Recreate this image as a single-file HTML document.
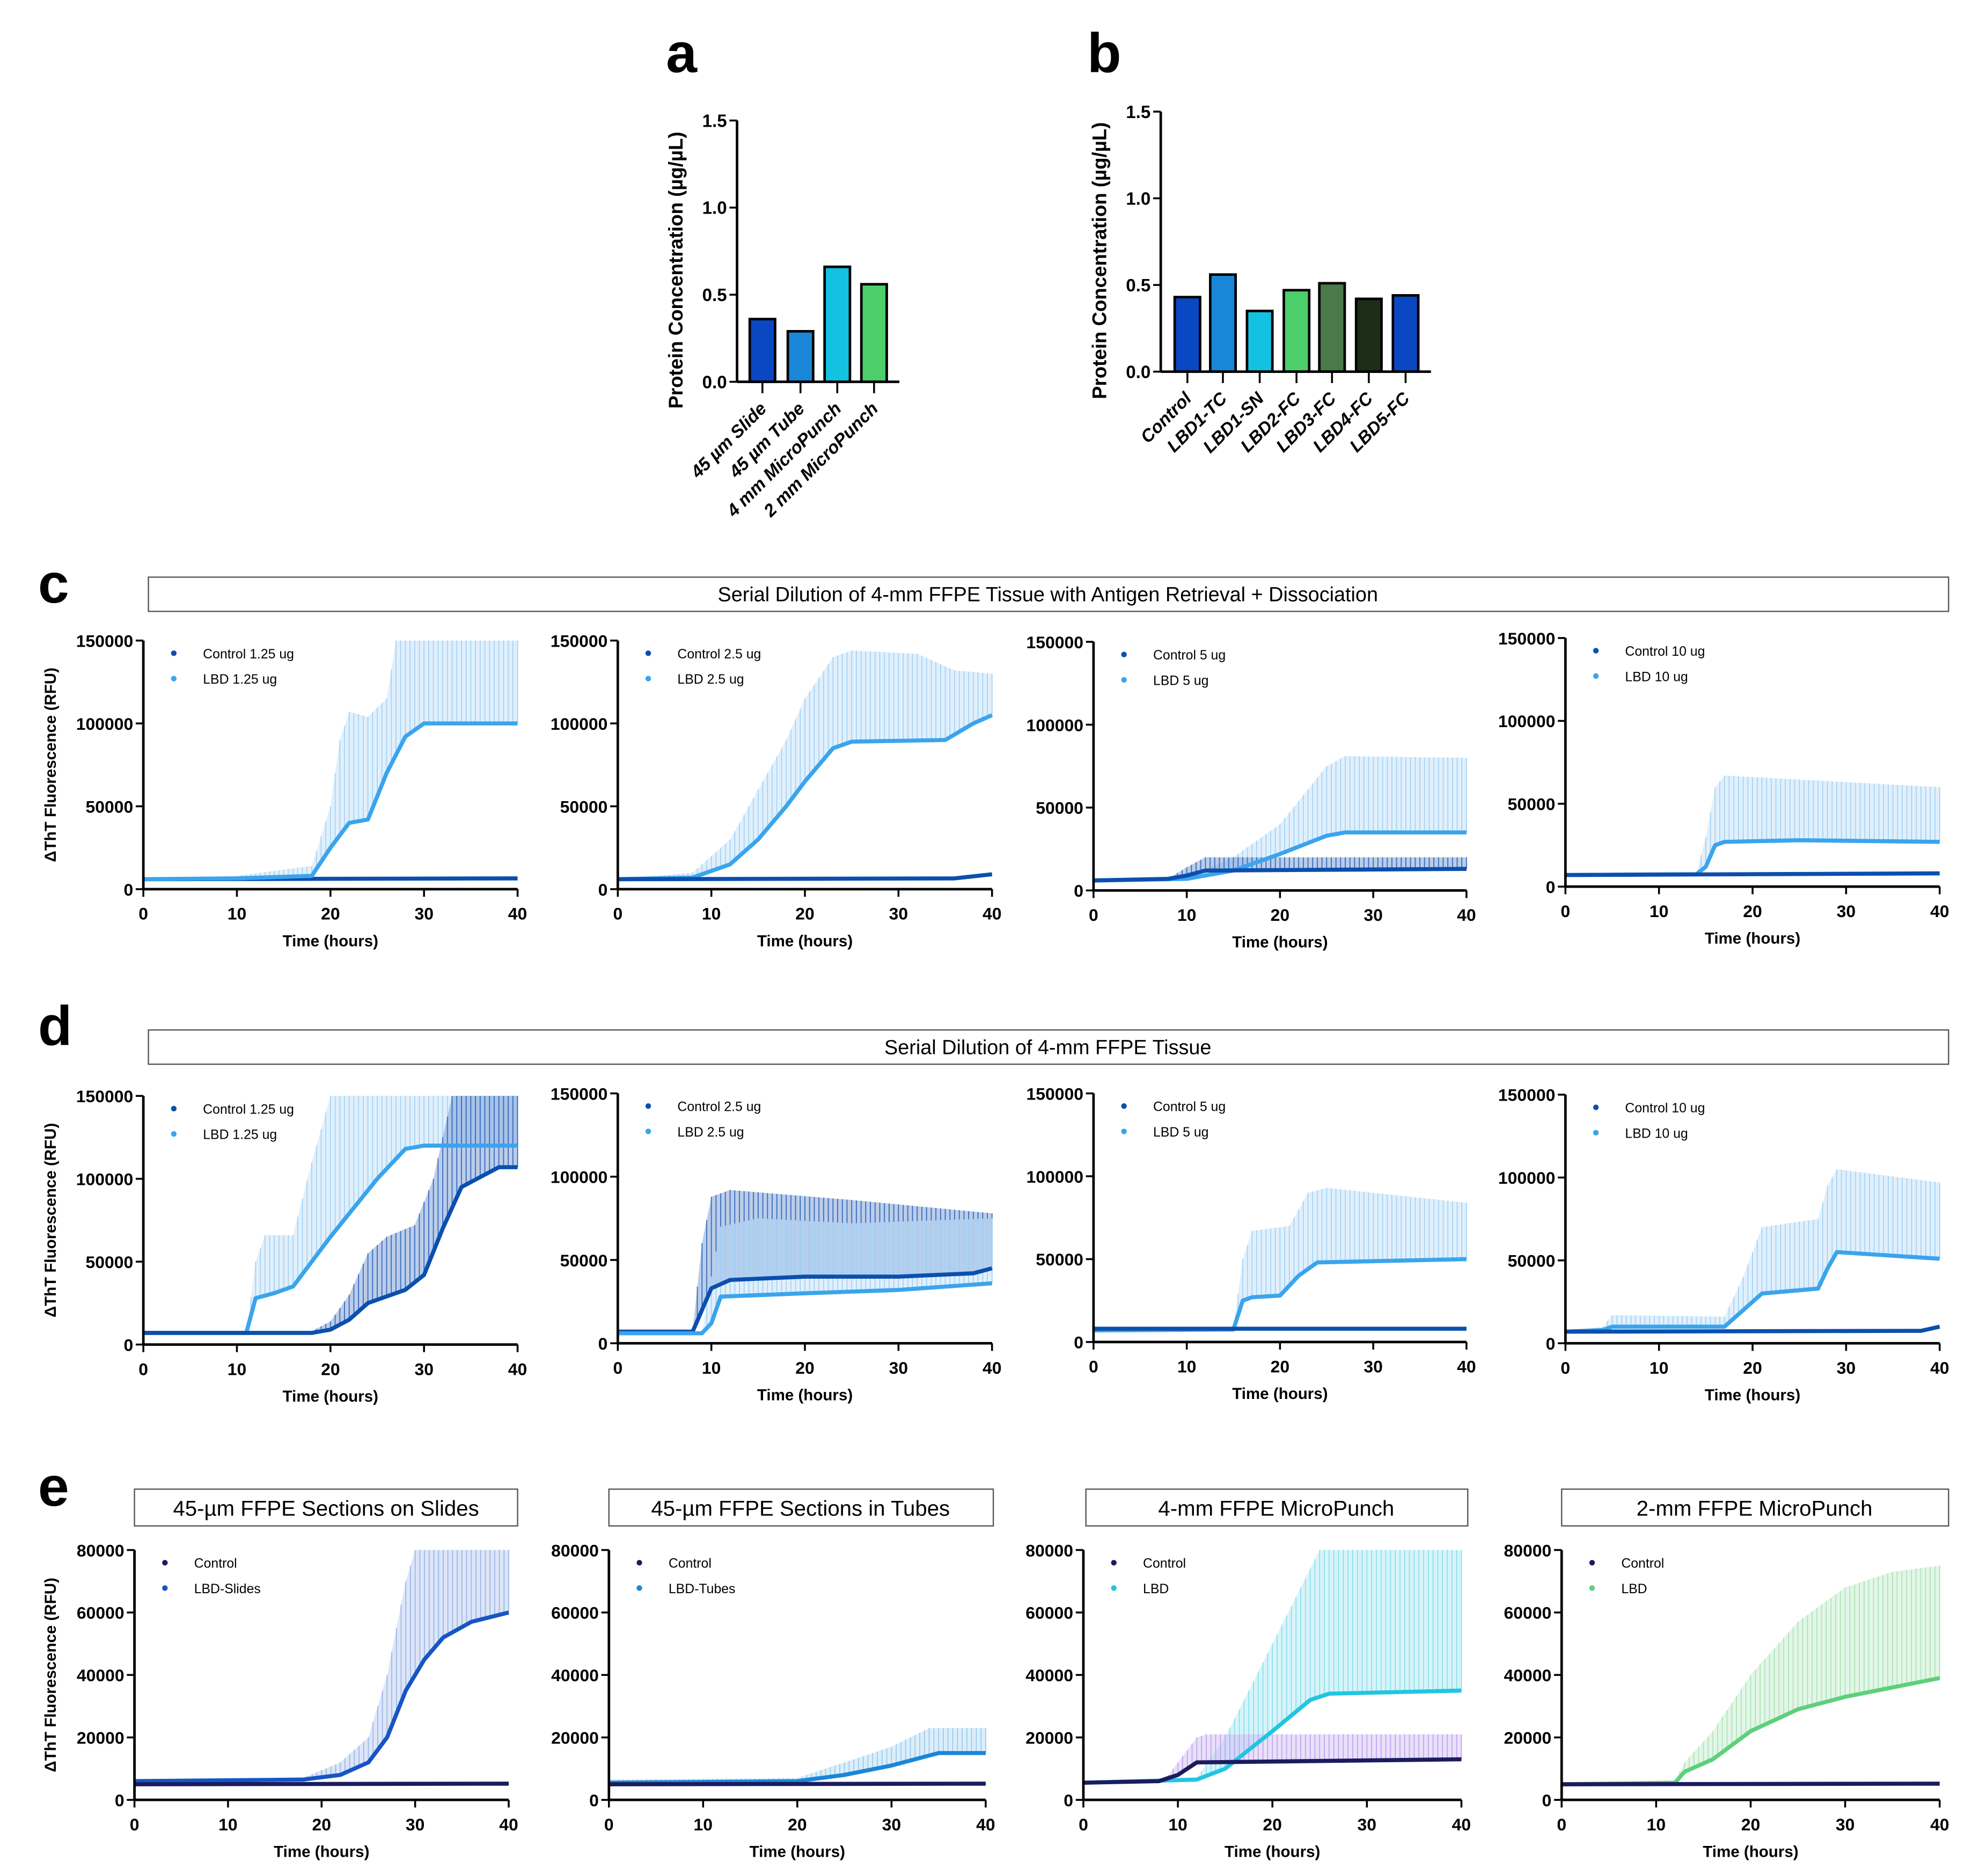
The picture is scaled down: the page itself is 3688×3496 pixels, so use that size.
<!DOCTYPE html>
<html><head><meta charset="utf-8"><style>
html,body{margin:0;padding:0;background:#fff}
svg{display:block}
text{font-family:"Liberation Sans",Arial,sans-serif}
</style></head><body>
<svg id="fig" xmlns="http://www.w3.org/2000/svg" width="3688" height="3496" viewBox="0 0 1560 1479" preserveAspectRatio="none">
<rect width="1560" height="1479" fill="#fff"/>
<text x="525" y="57" font-size="44" font-weight="bold">a</text>
<text x="857" y="57" font-size="44" font-weight="bold">b</text>
<text x="30" y="475" font-size="44" font-weight="bold">c</text>
<text x="30" y="824" font-size="44" font-weight="bold">d</text>
<text x="30" y="1187" font-size="44" font-weight="bold">e</text>
<rect x="117" y="455" width="1419" height="27" fill="none" stroke="#555" stroke-width="1"/>
<text x="826" y="474" font-size="16" text-anchor="middle">Serial Dilution of 4-mm FFPE Tissue with Antigen Retrieval + Dissociation</text>
<rect x="117" y="812" width="1419" height="27" fill="none" stroke="#555" stroke-width="1"/>
<text x="826" y="831" font-size="16" text-anchor="middle">Serial Dilution of 4-mm FFPE Tissue</text>
<g><rect x="106" y="1174" width="302" height="29" fill="none" stroke="#555"/><text x="257" y="1195" font-size="17" text-anchor="middle">45-µm FFPE Sections on Slides</text></g>
<g><rect x="480" y="1174" width="303" height="29" fill="none" stroke="#555"/><text x="631" y="1195" font-size="17" text-anchor="middle">45-µm FFPE Sections in Tubes</text></g>
<g><rect x="856" y="1174" width="301" height="29" fill="none" stroke="#555"/><text x="1006" y="1195" font-size="17" text-anchor="middle">4-mm FFPE MicroPunch</text></g>
<g><rect x="1231" y="1174" width="305" height="29" fill="none" stroke="#555"/><text x="1383" y="1195" font-size="17" text-anchor="middle">2-mm FFPE MicroPunch</text></g>
</svg>
<script>
// ---- bar chart data ----
const barACats=["45 µm Slide","45 µm Tube","4 mm MicroPunch","2 mm MicroPunch"];
const barAVals=[0.36,0.29,0.66,0.56];
const barBCats=["Control","LBD1-TC","LBD1-SN","LBD2-FC","LBD3-FC","LBD4-FC","LBD5-FC"];
const barBVals=[0.43,0.56,0.35,0.47,0.51,0.42,0.44];
const barTicks=[0,0.5,1.0,1.5];
const barTickLabels=["0.0","0.5","1.0","1.5"];
// ---- kinetic data (hours, mean, upper error) ----
const xTicks=[0,10,20,30,40];
const yTicks150=[0,50000,100000,150000];
const yTicks80=[0,20000,40000,60000,80000];
const c1CtrlT=[0,40], c1CtrlV=[6000,6500];
const c1LbdT=[0,10,18,20,22,24,26,28,30,40], c1LbdV=[6000,6500,8000,25000,40000,42000,70000,92000,100000,100000];
const c1ErrT=[0,10,18,20,21,22,24,26,27,40], c1ErrV=[6000,8000,14000,50000,90000,107000,104000,115000,150000,150000];
const c2CtrlT=[0,36,40], c2CtrlV=[6000,6500,9000];
const c2LbdT=[0,8,12,15,18,20,23,25,35,38,40], c2LbdV=[6000,7000,15000,30000,50000,65000,85000,89000,90000,100000,105000];
const c2ErrT=[0,8,12,15,18,20,23,25,32,36,40], c2ErrV=[6000,10000,30000,60000,90000,115000,140000,144000,142000,132000,130000];
const c3CtrlT=[0,8,10,12,40], c3CtrlV=[6000,7000,9000,12000,13000];
const c3CErrT=[0,8,10,12,40], c3CErrV=[6000,7000,14000,20000,20000];
const c3LbdT=[0,10,15,20,25,27,40], c3LbdV=[6000,7000,12000,22000,33000,35000,35000];
const c3ErrT=[0,10,15,20,25,27,40], c3ErrV=[6000,8000,20000,40000,75000,81000,80000];
const c4CtrlT=[0,40], c4CtrlV=[7000,8000];
const c4LbdT=[0,14,15,16,17,25,40], c4LbdV=[7000,7500,12000,25000,27000,28000,27000];
const c4ErrT=[0,14,15,16,17,40], c4ErrV=[7000,8000,30000,60000,67000,60000];
const d1CtrlT=[0,18,20,22,24,28,30,32,34,38,40], d1CtrlV=[7000,7000,9000,15000,25000,33000,42000,70000,95000,107000,107000];
const d1CErrT=[0,18,20,22,24,26,29,31,33,40], d1CErrV=[7000,8000,14000,30000,55000,65000,72000,100000,150000,150000];
const d1LbdT=[0,11,12,14,16,20,25,28,30,40], d1LbdV=[7000,7000,28000,31000,35000,65000,100000,118000,120000,120000];
const d1ErrT=[0,11,12,13,16,18,20,40], d1ErrV=[7000,7000,50000,66000,66000,110000,150000,150000];
const d2CtrlT=[0,8,9,10,12,20,30,38,40], d2CtrlV=[7000,7000,20000,33000,38000,40000,40000,42000,45000];
const d2CErrT=[0,8,9,10,12,25,40], d2CErrV=[7000,8000,60000,88000,92000,86000,78000];
const d2LbdT=[0,9,10,11,20,30,40], d2LbdV=[6000,6000,12000,28000,30000,32000,36000];
const d2ErrT=[0,9,10,11,15,25,40], d2ErrV=[6000,6000,40000,70000,75000,72000,75000];
const d3CtrlT=[0,40], d3CtrlV=[8000,8000];
const d3LbdT=[0,15,16,17,20,22,24,40], d3LbdV=[7000,7500,25000,27000,28000,40000,48000,50000];
const d3ErrT=[0,15,16,17,21,23,25,40], d3ErrV=[7000,8000,50000,67000,70000,90000,93000,84000];
const d4CtrlT=[0,38,40], d4CtrlV=[7000,7500,10000];
const d4LbdT=[0,4,5,17,19,21,27,28,29,40], d4LbdV=[7000,8000,10000,10000,20000,30000,33000,45000,55000,51000];
const d4ErrT=[0,4,5,17,19,21,27,28,29,40], d4ErrV=[7000,10000,17000,16000,40000,70000,75000,95000,105000,97000];
const e1CtrlT=[0,40], e1CtrlV=[5000,5200];
const e1LbdT=[0,18,22,25,27,29,31,33,36,40], e1LbdV=[6000,6500,8000,12000,20000,35000,45000,52000,57000,60000];
const e1ErrT=[0,18,22,25,27,29,30,40], e1ErrV=[6500,7000,12000,20000,40000,70000,80000,80000];
const e2CtrlT=[0,40], e2CtrlV=[5000,5200];
const e2LbdT=[0,20,25,30,35,40], e2LbdV=[5500,6000,8000,11000,15000,15000];
const e2ErrT=[0,20,25,30,34,40], e2ErrV=[6500,7000,12000,17000,23000,23000];
const e3CtrlT=[0,8,10,12,40], e3CtrlV=[5500,6000,8000,12000,13000];
const e3CErrT=[0,8,9,12,13,40], e3CErrV=[5500,6000,8000,20000,21000,21000];
const e3LbdT=[0,12,15,20,24,26,40], e3LbdV=[5500,6500,10000,22000,32000,34000,35000];
const e3ErrT=[0,12,15,20,25,40], e3ErrV=[5500,7000,20000,50000,80000,80000];
const e4CtrlT=[0,40], e4CtrlV=[5000,5200];
const e4LbdT=[0,12,13,16,20,25,30,35,40], e4LbdV=[5000,5500,9000,13000,22000,29000,33000,36000,39000];
const e4ErrT=[0,12,13,16,20,25,30,35,40], e4ErrV=[5000,6000,12000,22000,40000,57000,68000,73000,75000];

const NS="http://www.w3.org/2000/svg";
const svg=document.getElementById('fig');
function mk(tag,attrs,parent){const e=document.createElementNS(NS,tag);for(const k in attrs)e.setAttribute(k,attrs[k]);(parent||svg).appendChild(e);return e;}
function txt(x,y,s,attrs,parent){const t=mk('text',Object.assign({x:x,y:y},attrs),parent);t.textContent=s;return t;}

function barChart(name,ax,y0,ymaxPx,xEnd,centers,cats,vals,colors,titleX){
  const g=mk('g',{});
  
  
  const sy=v=>y0-(v/1.5)*(y0-ymaxPx);
  vals.forEach((v,i)=>{
    const r=mk('rect',{x:centers[i]-10,y:sy(v),width:20,height:y0-sy(v),fill:colors[i],stroke:'#000','stroke-width':2},g);
    
    
    mk('line',{x1:centers[i],x2:centers[i],y1:y0,y2:y0+9,stroke:'#000','stroke-width':1.5},g);
    const t=txt(centers[i]+4,y0+22,cats[i],{'font-size':14,'font-weight':'bold','font-style':'italic','text-anchor':'end',transform:`rotate(-45 ${centers[i]+4} ${y0+22})`},g);
    
    
  });
  mk('line',{x1:ax,x2:ax,y1:ymaxPx,y2:y0,stroke:'#000','stroke-width':2},g);
  mk('line',{x1:ax,x2:xEnd,y1:y0,y2:y0,stroke:'#000','stroke-width':2},g);
  barTicks.forEach((v,i)=>{
    mk('line',{x1:ax-6,x2:ax,y1:sy(v),y2:sy(v),stroke:'#000','stroke-width':1.5},g);
    txt(ax-8,sy(v)+5,barTickLabels[i],{'font-size':14,'font-weight':'bold','text-anchor':'end'},g);
  });
  const cy=(y0+ymaxPx)/2+15;
  const tt=txt(titleX,cy,'Protein Concentration (µg/µL)',{'font-size':15.5,'font-weight':'bold','text-anchor':'middle',transform:`rotate(-90 ${titleX} ${cy})`},g);
  
  
}
barChart('bar-chart-a',581,301,95,709,[601,631,660,689],barACats,barAVals,['#0a47c2','#1a86d8','#12c2e0','#4ccf6a'],538);
barChart('bar-chart-b',915,293,88,1128,[936,964,993,1022,1050,1079,1108],barBCats,barBVals,['#0a47c2','#1a86d8','#12c2e0','#4ccf6a','#4a7a48','#1c2e18','#0a47c2'],872);

function interp(T,V,t){for(let i=0;i<T.length-1;i++){if(t>=T[i]&&t<=T[i+1]){const f=(t-T[i])/(T[i+1]-T[i]||1);return V[i]+f*(V[i+1]-V[i]);}}return t<T[0]?V[0]:V[V.length-1];}

function kinetic(p){
  const g=mk('g',{});
  
  
  const sx=t=>p.x0+(t/40)*(p.x1-p.x0);
  const sy=v=>p.y0-(Math.min(v,p.ymax)/p.ymax)*(p.y0-p.yTop);
  p.series.forEach(s=>{
    if(s.eT){
      const eg=mk('g',{},g);
      
      
      let pts=s.T.map((t,i)=>sx(t)+','+sy(s.V[i]));
      let up=[];for(let i=s.eT.length-1;i>=0;i--)up.push(sx(s.eT[i])+','+sy(s.eV[i]));
      let poly=[];
      for(let t=0;t<=40.001;t+=0.5){poly.push(sx(t)+','+sy(interp(s.eT,s.eV,t)));}
      let back=[];for(let t=40;t>=-0.001;t-=0.5){back.push(sx(t)+','+sy(interp(s.T,s.V,t)));}
      mk('polygon',{points:poly.concat(back).join(' '),fill:s.ec,opacity:0.35},eg);
      for(let t=0;t<=40.001;t+=0.5){
        mk('line',{x1:sx(t),x2:sx(t),y1:sy(interp(s.T,s.V,t)),y2:sy(interp(s.eT,s.eV,t)),stroke:s.ec,'stroke-width':0.8},eg);
      }
    }
  });
  p.series.forEach(s=>{
    const l=mk('polyline',{points:s.T.map((t,i)=>sx(t)+','+sy(s.V[i])).join(' '),fill:'none',stroke:s.c,'stroke-width':3.2,'stroke-linejoin':'round'},g);
    
    
  });
  mk('line',{x1:p.x0,x2:p.x0,y1:p.yTop,y2:p.y0,stroke:'#000','stroke-width':2},g);
  mk('line',{x1:p.x0,x2:p.x1,y1:p.y0,y2:p.y0,stroke:'#000','stroke-width':2},g);
  xTicks.forEach(t=>{
    mk('line',{x1:sx(t),x2:sx(t),y1:p.y0,y2:p.y0+6,stroke:'#000','stroke-width':1.5},g);
    txt(sx(t),p.y0+24,String(t),{'font-size':13.5,'font-weight':'bold','text-anchor':'middle'},g);
  });
  p.yt.forEach(v=>{
    mk('line',{x1:p.x0-6,x2:p.x0,y1:sy(v),y2:sy(v),stroke:'#000','stroke-width':1.5},g);
    txt(p.x0-8,sy(v)+5,String(v),{'font-size':13.5,'font-weight':'bold','text-anchor':'end'},g);
  });
  const xt=txt((p.x0+p.x1)/2,p.y0+45,'Time (hours)',{'font-size':12.5,'font-weight':'bold','text-anchor':'middle'},g);
  
  
  if(p.ytitle){
    const cy=(p.y0+p.yTop)/2;
    const yt=txt(44,cy,'ΔThT Fluorescence (RFU)',{'font-size':12.5,'font-weight':'bold','text-anchor':'middle',transform:`rotate(-90 44 ${cy})`},g);
    
    
  }
  p.legend.forEach((L,i)=>{
    const lg=mk('g',{},g);
    
    
    const ly=p.yTop+10+i*20;
    mk('circle',{cx:p.x0+p.lx,cy:ly,r:2.2,fill:L[1]},lg);
    txt(p.x0+p.lx+23,ly+4,L[0],{'font-size':10.5},lg);
  });
}
const CD='#0b4fae', CL='#3aa4ec', EL='#a8d4f5', ED='#3d6fc0', NV='#1b1b5e';
const cs=[[113,408,701,505],[487,782,701,505],[862,1156,702,506],[1234,1529,699,503]];
const ds=[[113,408,1060,864],[487,782,1059,862],[862,1156,1058,862],[1234,1529,1059,863]];
const es=[[106,401,1419,1222],[480,777,1419,1222],[854,1152,1419,1222],[1231,1529,1419,1222]];
function P(name,geo,ymax,yt,ytitle,legend,series,lx){kinetic({name:name,x0:geo[0],x1:geo[1],y0:geo[2],yTop:geo[3],ymax:ymax,yt:yt,ytitle:ytitle,legend:legend,series:series,lx:lx||24});}
P('chart-c1',cs[0],150000,yTicks150,true,[['Control 1.25 ug',CD],['LBD 1.25 ug',CL]],[{key:'control',T:c1CtrlT,V:c1CtrlV,c:CD},{key:'lbd',T:c1LbdT,V:c1LbdV,c:CL,eT:c1ErrT,eV:c1ErrV,ec:EL}]);
P('chart-c2',cs[1],150000,yTicks150,false,[['Control 2.5 ug',CD],['LBD 2.5 ug',CL]],[{key:'lbd',T:c2LbdT,V:c2LbdV,c:CL,eT:c2ErrT,eV:c2ErrV,ec:EL},{key:'control',T:c2CtrlT,V:c2CtrlV,c:CD}]);
P('chart-c3',cs[2],150000,yTicks150,false,[['Control 5 ug',CD],['LBD 5 ug',CL]],[{key:'lbd',T:c3LbdT,V:c3LbdV,c:CL,eT:c3ErrT,eV:c3ErrV,ec:EL},{key:'control',T:c3CtrlT,V:c3CtrlV,c:CD,eT:c3CErrT,eV:c3CErrV,ec:ED}]);
P('chart-c4',cs[3],150000,yTicks150,false,[['Control 10 ug',CD],['LBD 10 ug',CL]],[{key:'lbd',T:c4LbdT,V:c4LbdV,c:CL,eT:c4ErrT,eV:c4ErrV,ec:EL},{key:'control',T:c4CtrlT,V:c4CtrlV,c:CD}]);
P('chart-d1',ds[0],150000,yTicks150,true,[['Control 1.25 ug',CD],['LBD 1.25 ug',CL]],[{key:'lbd',T:d1LbdT,V:d1LbdV,c:CL,eT:d1ErrT,eV:d1ErrV,ec:EL},{key:'control',T:d1CtrlT,V:d1CtrlV,c:CD,eT:d1CErrT,eV:d1CErrV,ec:ED}]);
P('chart-d2',ds[1],150000,yTicks150,false,[['Control 2.5 ug',CD],['LBD 2.5 ug',CL]],[{key:'control',T:d2CtrlT,V:d2CtrlV,c:CD,eT:d2CErrT,eV:d2CErrV,ec:ED},{key:'lbd',T:d2LbdT,V:d2LbdV,c:CL,eT:d2ErrT,eV:d2ErrV,ec:EL}]);
P('chart-d3',ds[2],150000,yTicks150,false,[['Control 5 ug',CD],['LBD 5 ug',CL]],[{key:'lbd',T:d3LbdT,V:d3LbdV,c:CL,eT:d3ErrT,eV:d3ErrV,ec:EL},{key:'control',T:d3CtrlT,V:d3CtrlV,c:CD}]);
P('chart-d4',ds[3],150000,yTicks150,false,[['Control 10 ug',CD],['LBD 10 ug',CL]],[{key:'lbd',T:d4LbdT,V:d4LbdV,c:CL,eT:d4ErrT,eV:d4ErrV,ec:EL},{key:'control',T:d4CtrlT,V:d4CtrlV,c:CD}]);
P('chart-e1',es[0],80000,yTicks80,true,[['Control',NV],['LBD-Slides','#1656c4']],[{key:'lbd',T:e1LbdT,V:e1LbdV,c:'#1656c4',eT:e1ErrT,eV:e1ErrV,ec:'#9fb8ea'},{key:'control',T:e1CtrlT,V:e1CtrlV,c:NV}]);
P('chart-e2',es[1],80000,yTicks80,false,[['Control',NV],['LBD-Tubes','#1a86d8']],[{key:'lbd',T:e2LbdT,V:e2LbdV,c:'#1a86d8',eT:e2ErrT,eV:e2ErrV,ec:'#9ccdf2'},{key:'control',T:e2CtrlT,V:e2CtrlV,c:NV}]);
P('chart-e3',es[2],80000,yTicks80,false,[['Control',NV],['LBD','#22c5e0']],[{key:'lbd',T:e3LbdT,V:e3LbdV,c:'#22c5e0',eT:e3ErrT,eV:e3ErrV,ec:'#8fe0ee'},{key:'control',T:e3CtrlT,V:e3CtrlV,c:NV,eT:e3CErrT,eV:e3CErrV,ec:'#c2a8f0'}]);
P('chart-e4',es[3],80000,yTicks80,false,[['Control',NV],['LBD','#5dd07a']],[{key:'lbd',T:e4LbdT,V:e4LbdV,c:'#5dd07a',eT:e4ErrT,eV:e4ErrV,ec:'#aee6bb'},{key:'control',T:e4CtrlT,V:e4CtrlV,c:NV}]);
</script>
</body></html>
